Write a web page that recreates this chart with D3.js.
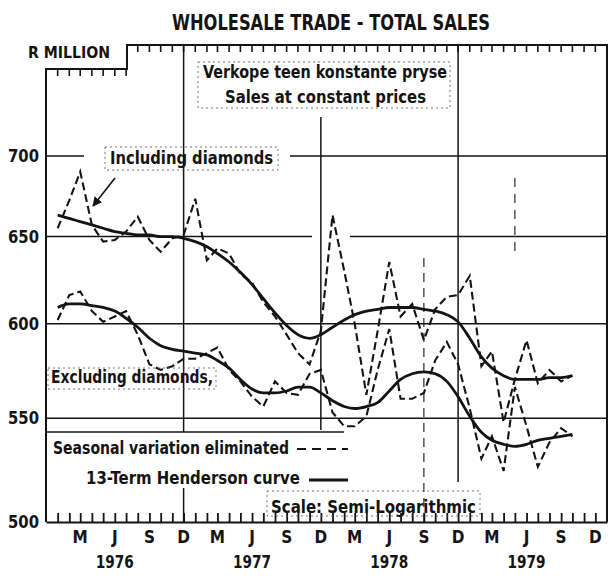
<!DOCTYPE html>
<html>
<head>
<meta charset="utf-8">
<script src="https://cdn.jsdelivr.net/npm/d3@7"></script>
<style>
  body { margin: 0; background: #fff; }
  svg text {
    font-family: "Liberation Sans Narrow", "DejaVu Sans Condensed", "Roboto", sans-serif;
    font-weight: bold;
    fill: #141414;
  }
</style>
</head>
<body>
<div id="chart"></div>
<script>
// chart size = window size
const width = 613, height = 576;

// monthly values Jan 1976 - Oct 1979, R million at constant prices
const inclSeasonal = [655, 672, 690, 657, 647, 648, 653, 662, 648, 641, 649, 651,
                      673, 636, 643, 640, 628, 623, 612, 604, 594, 584, 578, 596,
                      663, 630, 600, 562, 596, 635, 604, 611, 591, 608, 615, 616,
                      627, 577, 585, 548, 570, 591, 568, 575, 569, 572];
const inclTrend = [663, 661, 659, 657, 655, 653, 652, 651, 651, 650, 650, 649,
                   647, 644, 640, 635, 629, 622, 614, 606, 599, 594, 592, 594,
                   598, 602, 605, 607, 608, 609, 609, 609, 608, 607, 605, 601,
                   592, 582, 576, 572, 570, 570, 570, 571, 571, 572];
const exclSeasonal = [602, 616, 618, 607, 601, 604, 607, 594, 578, 575, 577, 581,
                      581, 584, 587, 575, 569, 561, 556, 569, 563, 562, 573, 575,
                      553, 546, 546, 551, 575, 597, 560, 560, 563, 580, 590, 578,
                      555, 530, 541, 524, 566, 546, 526, 538, 545, 541];
const exclTrend = [609, 611, 611, 610, 609, 607, 603, 598, 592, 588, 586, 585,
                   584, 583, 580, 576, 570, 565, 563, 563, 564, 566, 566, 563,
                   559, 556, 555, 556, 558, 564, 570, 573, 574, 573, 569, 561,
                   551, 543, 539, 537, 536, 537, 539, 540, 541, 542];

const yTicks = [500, 550, 600, 650, 700];
const monthLabels = ["M", "J", "S", "D"];
const years = [1976, 1977, 1978, 1979];

const ink = "#141414";

const svg = d3.select("#chart")
  .append("svg")
  .attr("width", width)
  .attr("height", height)
  .attr("viewBox", [0, 0, width, height]);

// first month of the series
const dates = inclTrend.map((d, i) => new Date(1976, i, 1));

const xScale = d3.scaleTime()
  .domain([new Date(1975, 11, 1), new Date(1980, 0, 1)])
  .range([46, 607]);

// semi-logarithmic
const yScale = d3.scaleLog()
  .domain([500, 700])
  .range([522, 156]);

const frameL = 46, frameR = 607, frameT = 45, stepX = 127, stepY = 69;
const frameB = yScale(500);

// one tick per month, Jan 1976 .. Dec 1979
const monthTicks = d3.timeMonth.range(new Date(1976, 0, 1), new Date(1980, 0, 1));

// ---- grid lines
const grid = svg.append("g")
  .attr("stroke", ink)
  .attr("stroke-width", 1.5)
  .attr("fill", "none");

// horizontal lines (700 line broken by the label)
grid.append("line").attr("x1", frameL).attr("x2", 84)
  .attr("y1", yScale(700)).attr("y2", yScale(700));
grid.append("line").attr("x1", 290).attr("x2", frameR)
  .attr("y1", yScale(700)).attr("y2", yScale(700));
grid.append("line").attr("x1", frameL).attr("x2", 312)
  .attr("y1", yScale(650)).attr("y2", yScale(650));
grid.append("line").attr("x1", 350).attr("x2", frameR)
  .attr("y1", yScale(650)).attr("y2", yScale(650));
[600, 550].forEach(v => {
  grid.append("line").attr("x1", frameL).attr("x2", frameR)
    .attr("y1", yScale(v)).attr("y2", yScale(v));
});

// vertical lines at December
const dec76 = xScale(new Date(1976, 11, 1));
const dec77 = xScale(new Date(1977, 11, 1));
const dec78 = xScale(new Date(1978, 11, 1));
grid.append("line").attr("x1", dec76).attr("x2", dec76).attr("y1", frameT).attr("y2", 432);
grid.append("line").attr("x1", dec76).attr("x2", dec76).attr("y1", 488).attr("y2", frameB);
grid.append("line").attr("x1", dec77).attr("x2", dec77).attr("y1", 117).attr("y2", 430);
grid.append("line").attr("x1", dec78).attr("x2", dec78).attr("y1", frameT).attr("y2", 482);

// faint broken verticals
const sep78 = xScale(new Date(1978, 8, 1));
const may79 = xScale(new Date(1979, 4, 1));
grid.append("line").attr("x1", sep78).attr("x2", sep78).attr("y1", 258).attr("y2", frameB)
  .attr("stroke-dasharray", "9,6").attr("stroke-width", 1.1);
grid.append("line").attr("x1", may79).attr("x2", may79).attr("y1", 178).attr("y2", 258)
  .attr("stroke-dasharray", "9,7").attr("stroke-width", 1.1);

// ---- frame with the step in the top left corner
svg.append("path")
  .attr("d", `M${frameL},${frameB} L${frameL},${stepY} L${stepX},${stepY} L${stepX},${frameT} L${frameR},${frameT} L${frameR},${frameB}`)
  .attr("fill", "none")
  .attr("stroke", ink)
  .attr("stroke-width", 2);

// bottom axis with monthly ticks pointing up
svg.append("g")
  .attr("transform", `translate(0,${frameB})`)
  .call(d3.axisBottom(xScale)
    .tickValues(monthTicks)
    .tickSizeInner(-9)
    .tickSizeOuter(0)
    .tickFormat(""))
  .call(g => g.select(".domain").attr("stroke", ink).attr("stroke-width", 2.2))
  .call(g => g.selectAll(".tick line").attr("stroke", ink).attr("stroke-width", 1.8));

// top frame ticks pointing down
svg.append("g")
  .selectAll("line")
  .data(monthTicks)
  .join("line")
  .attr("x1", d => xScale(d))
  .attr("x2", d => xScale(d))
  .attr("y1", d => xScale(d) < stepX ? stepY : frameT)
  .attr("y2", d => (xScale(d) < stepX ? stepY : frameT) + 7)
  .attr("stroke", ink)
  .attr("stroke-width", 1.6);

// y labels
svg.append("g")
  .selectAll("text")
  .data(yTicks)
  .join("text")
  .attr("x", 39)
  .attr("y", d => yScale(d) + 6)
  .attr("text-anchor", "end")
  .attr("font-size", 17)
  .attr("textLength", 31)
  .attr("lengthAdjust", "spacingAndGlyphs")
  .text(d => d);

// month labels M J S D
const quarters = [];
years.forEach(y => monthLabels.forEach((m, k) => quarters.push({ date: new Date(y, 2 + 3 * k, 1), label: m })));
svg.append("g")
  .selectAll("text")
  .data(quarters)
  .join("text")
  .attr("x", d => xScale(d.date))
  .attr("y", 543)
  .attr("text-anchor", "middle")
  .attr("font-size", 17)
  .text(d => d.label);

// year labels centred on June
svg.append("g")
  .selectAll("text")
  .data(years)
  .join("text")
  .attr("x", d => xScale(new Date(d, 5, 1)))
  .attr("y", 568)
  .attr("text-anchor", "middle")
  .attr("font-size", 17)
  .attr("textLength", 38)
  .attr("lengthAdjust", "spacingAndGlyphs")
  .text(d => d);

// ---- series
const trendLine = d3.line()
  .x((d, i) => xScale(dates[i]))
  .y(d => yScale(d))
  .curve(d3.curveMonotoneX);

const seasonalLine = d3.line()
  .x((d, i) => xScale(dates[i]))
  .y(d => yScale(d));

[inclSeasonal, exclSeasonal].forEach(s => {
  svg.append("path")
    .datum(s)
    .attr("d", seasonalLine)
    .attr("fill", "none")
    .attr("stroke", ink)
    .attr("stroke-width", 2.1)
    .attr("stroke-dasharray", "8,4");
});

[inclTrend, exclTrend].forEach(s => {
  svg.append("path")
    .datum(s)
    .attr("d", trendLine)
    .attr("fill", "none")
    .attr("stroke", ink)
    .attr("stroke-width", 2.8);
});

// ---- texts and annotations
svg.append("text")
  .attr("x", 331).attr("y", 30)
  .attr("text-anchor", "middle")
  .attr("font-size", 22)
  .attr("textLength", 318)
  .attr("lengthAdjust", "spacingAndGlyphs")
  .text("WHOLESALE TRADE - TOTAL SALES");

svg.append("text")
  .attr("x", 28).attr("y", 58)
  .attr("font-size", 16)
  .attr("textLength", 82)
  .attr("lengthAdjust", "spacingAndGlyphs")
  .text("R MILLION");

function label(txt, x, y, len, size) {
  svg.append("text")
    .attr("x", x).attr("y", y)
    .attr("font-size", size || 17)
    .attr("textLength", len)
    .attr("lengthAdjust", "spacingAndGlyphs")
    .text(txt);
}

label("Verkope teen konstante pryse", 203, 78, 244);
label("Sales at constant prices", 225, 103, 201);
label("Including diamonds", 110, 164, 163);
label("Excluding diamonds,", 51, 383, 162);
label("Seasonal variation eliminated", 53, 454, 236);
label("13-Term Henderson curve", 86, 484, 214);
label("Scale: Semi-Logarithmic", 271, 513, 205);

// dotted boxes round the labels
const boxes = [
  [198, 62, 252, 46],
  [105, 147, 173, 23],
  [48, 368, 168, 21],
  [267, 491, 213, 25]
];
svg.append("g")
  .selectAll("rect")
  .data(boxes)
  .join("rect")
  .attr("x", d => d[0]).attr("y", d => d[1])
  .attr("width", d => d[2]).attr("height", d => d[3])
  .attr("fill", "none")
  .attr("stroke", "#555")
  .attr("stroke-width", 0.8)
  .attr("stroke-dasharray", "2,3");

// legend rule and line samples
svg.append("line").attr("x1", frameL).attr("x2", 344).attr("y1", 432).attr("y2", 432)
  .attr("stroke", ink).attr("stroke-width", 1.3);
svg.append("line").attr("x1", 297).attr("x2", 348).attr("y1", 449).attr("y2", 449)
  .attr("stroke", ink).attr("stroke-width", 2.2).attr("stroke-dasharray", "9,6");
svg.append("line").attr("x1", 309).attr("x2", 348).attr("y1", 480).attr("y2", 480)
  .attr("stroke", ink).attr("stroke-width", 2.8);

// arrow from "Including diamonds" to the dashed line
svg.append("defs").append("marker")
  .attr("id", "arrow")
  .attr("viewBox", "0 0 10 10")
  .attr("refX", 9).attr("refY", 5)
  .attr("markerWidth", 6).attr("markerHeight", 6)
  .attr("orient", "auto")
  .append("path")
  .attr("d", "M0,0 L10,5 L0,10 z")
  .attr("fill", ink);
svg.append("line")
  .attr("x1", 115).attr("y1", 178)
  .attr("x2", 93).attr("y2", 206)
  .attr("stroke", ink).attr("stroke-width", 1.6)
  .attr("marker-end", "url(#arrow)");
</script>
</body>
</html>
